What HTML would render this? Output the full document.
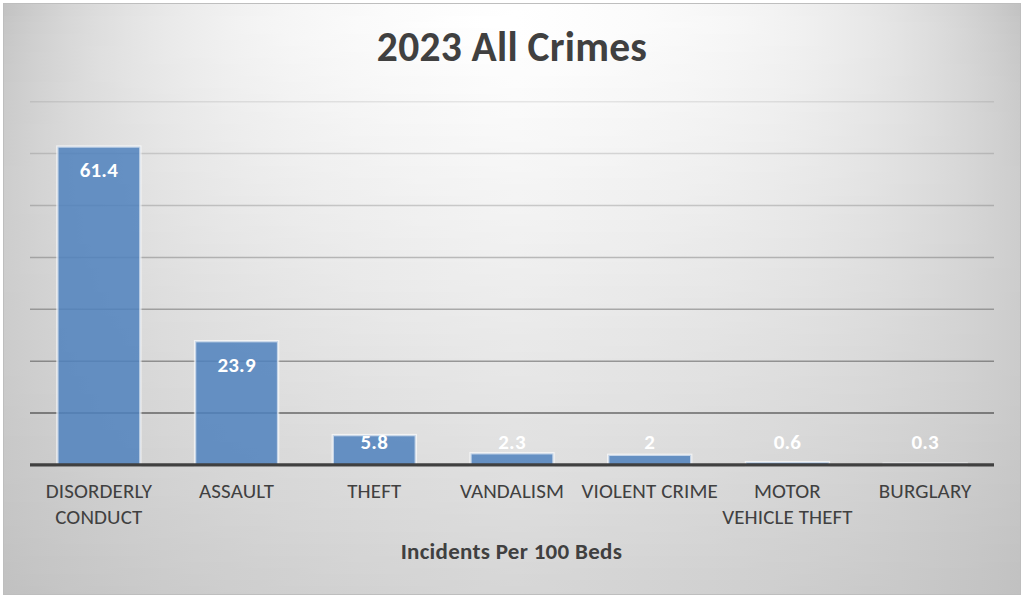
<!DOCTYPE html>
<html><head><meta charset="utf-8"><title>2023 All Crimes</title>
<style>
html,body{margin:0;padding:0;background:#fff;}
body{width:1024px;height:600px;overflow:hidden;position:relative;}
#chart{position:absolute;left:3px;top:3px;width:1016px;height:590px;border:1px solid #bebebe;overflow:hidden;}
#bg div{position:absolute;left:0;width:1016px;}
svg{position:absolute;left:0;top:0;}
text{font-family:Carlito,"Liberation Sans",sans-serif;text-anchor:middle;}
.dl{font-size:21px;letter-spacing:0.2px;font-weight:700;fill:#fff;}
.cl{font-size:21px;letter-spacing:0.12px;font-weight:400;fill:#404040;}
.ti{font-size:41.5px;letter-spacing:0.25px;font-weight:700;fill:#404040;}
.at{font-size:23px;letter-spacing:0.29px;font-weight:700;fill:#404040;}
</style></head>
<body>
<div id="chart"><div id="bg">
<div style="top:0px;height:6px;background:linear-gradient(90deg,#c2c2c2 0px,#cccccc 32px,#d5d5d5 64px,#dcdcdc 96px,#e2e2e2 128px,#e8e8e8 160px,#ececec 192px,#f0f0f0 224px,#f3f3f3 256px,#f5f5f5 288px,#f7f7f7 320px,#f9f9f9 352px,#fbfbfb 384px,#fcfcfc 416px,#fdfdfd 448px,#fefefe 480px,#fefefe 512px,#fefefe 544px,#fdfdfd 576px,#fbfbfb 608px,#fafafa 640px,#f9f9f9 672px,#f7f7f7 704px,#f5f5f5 736px,#f2f2f2 768px,#efefef 800px,#ebebeb 832px,#e7e7e7 864px,#e1e1e1 896px,#dadada 928px,#d3d3d3 960px,#cacaca 992px,#c2c2c2 1016px)"></div>
<div style="top:6px;height:6px;background:linear-gradient(90deg,#c3c3c3 0px,#cdcdcd 32px,#d6d6d6 64px,#dddddd 96px,#e3e3e3 128px,#e8e8e8 160px,#ededed 192px,#f0f0f0 224px,#f3f3f3 256px,#f6f6f6 288px,#f8f8f8 320px,#f9f9f9 352px,#fbfbfb 384px,#fcfcfc 416px,#fdfdfd 448px,#fefefe 480px,#ffffff 512px,#fefefe 544px,#fdfdfd 576px,#fcfcfc 608px,#fbfbfb 640px,#f9f9f9 672px,#f7f7f7 704px,#f5f5f5 736px,#f3f3f3 768px,#efefef 800px,#ececec 832px,#e7e7e7 864px,#e2e2e2 896px,#dbdbdb 928px,#d4d4d4 960px,#cbcbcb 992px,#c3c3c3 1016px)"></div>
<div style="top:12px;height:6px;background:linear-gradient(90deg,#c5c5c5 0px,#cecece 32px,#d7d7d7 64px,#dedede 96px,#e4e4e4 128px,#e9e9e9 160px,#ededed 192px,#f1f1f1 224px,#f4f4f4 256px,#f6f6f6 288px,#f8f8f8 320px,#fafafa 352px,#fbfbfb 384px,#fcfcfc 416px,#fefefe 448px,#ffffff 480px,#ffffff 512px,#fefefe 544px,#fdfdfd 576px,#fcfcfc 608px,#fbfbfb 640px,#f9f9f9 672px,#f8f8f8 704px,#f6f6f6 736px,#f3f3f3 768px,#f0f0f0 800px,#ececec 832px,#e8e8e8 864px,#e2e2e2 896px,#dcdcdc 928px,#d5d5d5 960px,#cccccc 992px,#c5c5c5 1016px)"></div>
<div style="top:18px;height:6px;background:linear-gradient(90deg,#c6c6c6 0px,#cfcfcf 32px,#d7d7d7 64px,#dedede 96px,#e4e4e4 128px,#e9e9e9 160px,#ededed 192px,#f1f1f1 224px,#f4f4f4 256px,#f6f6f6 288px,#f8f8f8 320px,#fafafa 352px,#fbfbfb 384px,#fdfdfd 416px,#fefefe 448px,#ffffff 480px,#ffffff 512px,#fefefe 544px,#fdfdfd 576px,#fcfcfc 608px,#fbfbfb 640px,#fafafa 672px,#f8f8f8 704px,#f6f6f6 736px,#f3f3f3 768px,#f0f0f0 800px,#ececec 832px,#e8e8e8 864px,#e3e3e3 896px,#dddddd 928px,#d5d5d5 960px,#cdcdcd 992px,#c6c6c6 1016px)"></div>
<div style="top:24px;height:6px;background:linear-gradient(90deg,#c6c6c6 0px,#cfcfcf 32px,#d7d7d7 64px,#dedede 96px,#e4e4e4 128px,#e9e9e9 160px,#ededed 192px,#f1f1f1 224px,#f4f4f4 256px,#f6f6f6 288px,#f8f8f8 320px,#fafafa 352px,#fbfbfb 384px,#fcfcfc 416px,#fdfdfd 448px,#fefefe 480px,#ffffff 512px,#fefefe 544px,#fdfdfd 576px,#fcfcfc 608px,#fbfbfb 640px,#f9f9f9 672px,#f8f8f8 704px,#f6f6f6 736px,#f3f3f3 768px,#f0f0f0 800px,#ececec 832px,#e8e8e8 864px,#e3e3e3 896px,#dddddd 928px,#d6d6d6 960px,#cdcdcd 992px,#c6c6c6 1016px)"></div>
<div style="top:30px;height:6px;background:linear-gradient(90deg,#c7c7c7 0px,#d0d0d0 32px,#d8d8d8 64px,#dedede 96px,#e4e4e4 128px,#e9e9e9 160px,#ededed 192px,#f1f1f1 224px,#f3f3f3 256px,#f6f6f6 288px,#f8f8f8 320px,#f9f9f9 352px,#fbfbfb 384px,#fcfcfc 416px,#fdfdfd 448px,#fefefe 480px,#ffffff 512px,#fefefe 544px,#fdfdfd 576px,#fcfcfc 608px,#fafafa 640px,#f9f9f9 672px,#f7f7f7 704px,#f5f5f5 736px,#f3f3f3 768px,#f0f0f0 800px,#ececec 832px,#e8e8e8 864px,#e3e3e3 896px,#dddddd 928px,#d6d6d6 960px,#cecece 992px,#c7c7c7 1016px)"></div>
<div style="top:36px;height:6px;background:linear-gradient(90deg,#c7c7c7 0px,#d0d0d0 32px,#d8d8d8 64px,#dedede 96px,#e4e4e4 128px,#e9e9e9 160px,#ededed 192px,#f0f0f0 224px,#f3f3f3 256px,#f6f6f6 288px,#f7f7f7 320px,#f9f9f9 352px,#fafafa 384px,#fcfcfc 416px,#fdfdfd 448px,#fefefe 480px,#fefefe 512px,#fdfdfd 544px,#fcfcfc 576px,#fbfbfb 608px,#fafafa 640px,#f9f9f9 672px,#f7f7f7 704px,#f5f5f5 736px,#f3f3f3 768px,#f0f0f0 800px,#ececec 832px,#e8e8e8 864px,#e3e3e3 896px,#dddddd 928px,#d6d6d6 960px,#cecece 992px,#c7c7c7 1016px)"></div>
<div style="top:42px;height:6px;background:linear-gradient(90deg,#c8c8c8 0px,#d0d0d0 32px,#d8d8d8 64px,#dfdfdf 96px,#e4e4e4 128px,#e9e9e9 160px,#ededed 192px,#f0f0f0 224px,#f3f3f3 256px,#f5f5f5 288px,#f7f7f7 320px,#f9f9f9 352px,#fafafa 384px,#fbfbfb 416px,#fcfcfc 448px,#fdfdfd 480px,#fefefe 512px,#fdfdfd 544px,#fcfcfc 576px,#fbfbfb 608px,#fafafa 640px,#f8f8f8 672px,#f7f7f7 704px,#f5f5f5 736px,#f2f2f2 768px,#efefef 800px,#ececec 832px,#e8e8e8 864px,#e3e3e3 896px,#dddddd 928px,#d6d6d6 960px,#cecece 992px,#c8c8c8 1016px)"></div>
<div style="top:48px;height:6px;background:linear-gradient(90deg,#c8c8c8 0px,#d1d1d1 32px,#d8d8d8 64px,#dfdfdf 96px,#e4e4e4 128px,#e9e9e9 160px,#ededed 192px,#f0f0f0 224px,#f3f3f3 256px,#f5f5f5 288px,#f7f7f7 320px,#f8f8f8 352px,#fafafa 384px,#fbfbfb 416px,#fcfcfc 448px,#fdfdfd 480px,#fefefe 512px,#fdfdfd 544px,#fcfcfc 576px,#fbfbfb 608px,#f9f9f9 640px,#f8f8f8 672px,#f6f6f6 704px,#f4f4f4 736px,#f2f2f2 768px,#efefef 800px,#ececec 832px,#e8e8e8 864px,#e3e3e3 896px,#dddddd 928px,#d6d6d6 960px,#cfcfcf 992px,#c8c8c8 1016px)"></div>
<div style="top:54px;height:6px;background:linear-gradient(90deg,#c8c8c8 0px,#d1d1d1 32px,#d8d8d8 64px,#dfdfdf 96px,#e4e4e4 128px,#e9e9e9 160px,#ececec 192px,#f0f0f0 224px,#f2f2f2 256px,#f5f5f5 288px,#f6f6f6 320px,#f8f8f8 352px,#f9f9f9 384px,#fbfbfb 416px,#fcfcfc 448px,#fdfdfd 480px,#fdfdfd 512px,#fcfcfc 544px,#fbfbfb 576px,#fafafa 608px,#f9f9f9 640px,#f8f8f8 672px,#f6f6f6 704px,#f4f4f4 736px,#f2f2f2 768px,#efefef 800px,#ececec 832px,#e7e7e7 864px,#e3e3e3 896px,#dddddd 928px,#d6d6d6 960px,#cfcfcf 992px,#c8c8c8 1016px)"></div>
<div style="top:60px;height:6px;background:linear-gradient(90deg,#c9c9c9 0px,#d1d1d1 32px,#d8d8d8 64px,#dfdfdf 96px,#e4e4e4 128px,#e8e8e8 160px,#ececec 192px,#efefef 224px,#f2f2f2 256px,#f4f4f4 288px,#f6f6f6 320px,#f8f8f8 352px,#f9f9f9 384px,#fafafa 416px,#fbfbfb 448px,#fcfcfc 480px,#fdfdfd 512px,#fcfcfc 544px,#fbfbfb 576px,#fafafa 608px,#f9f9f9 640px,#f7f7f7 672px,#f6f6f6 704px,#f4f4f4 736px,#f1f1f1 768px,#efefef 800px,#ebebeb 832px,#e7e7e7 864px,#e3e3e3 896px,#dddddd 928px,#d7d7d7 960px,#cfcfcf 992px,#c9c9c9 1016px)"></div>
<div style="top:66px;height:6px;background:linear-gradient(90deg,#c9c9c9 0px,#d1d1d1 32px,#d8d8d8 64px,#dfdfdf 96px,#e4e4e4 128px,#e8e8e8 160px,#ececec 192px,#efefef 224px,#f2f2f2 256px,#f4f4f4 288px,#f6f6f6 320px,#f7f7f7 352px,#f9f9f9 384px,#fafafa 416px,#fbfbfb 448px,#fcfcfc 480px,#fcfcfc 512px,#fcfcfc 544px,#fbfbfb 576px,#fafafa 608px,#f8f8f8 640px,#f7f7f7 672px,#f5f5f5 704px,#f3f3f3 736px,#f1f1f1 768px,#eeeeee 800px,#ebebeb 832px,#e7e7e7 864px,#e3e3e3 896px,#dddddd 928px,#d7d7d7 960px,#cfcfcf 992px,#c9c9c9 1016px)"></div>
<div style="top:72px;height:6px;background:linear-gradient(90deg,#c9c9c9 0px,#d1d1d1 32px,#d8d8d8 64px,#dfdfdf 96px,#e4e4e4 128px,#e8e8e8 160px,#ececec 192px,#efefef 224px,#f1f1f1 256px,#f4f4f4 288px,#f5f5f5 320px,#f7f7f7 352px,#f8f8f8 384px,#f9f9f9 416px,#fafafa 448px,#fbfbfb 480px,#fcfcfc 512px,#fbfbfb 544px,#fafafa 576px,#f9f9f9 608px,#f8f8f8 640px,#f7f7f7 672px,#f5f5f5 704px,#f3f3f3 736px,#f1f1f1 768px,#eeeeee 800px,#ebebeb 832px,#e7e7e7 864px,#e2e2e2 896px,#dddddd 928px,#d7d7d7 960px,#d0d0d0 992px,#c9c9c9 1016px)"></div>
<div style="top:78px;height:6px;background:linear-gradient(90deg,#cacaca 0px,#d2d2d2 32px,#d9d9d9 64px,#dedede 96px,#e4e4e4 128px,#e8e8e8 160px,#ececec 192px,#efefef 224px,#f1f1f1 256px,#f3f3f3 288px,#f5f5f5 320px,#f7f7f7 352px,#f8f8f8 384px,#f9f9f9 416px,#fafafa 448px,#fbfbfb 480px,#fcfcfc 512px,#fbfbfb 544px,#fafafa 576px,#f9f9f9 608px,#f8f8f8 640px,#f6f6f6 672px,#f5f5f5 704px,#f3f3f3 736px,#f1f1f1 768px,#eeeeee 800px,#ebebeb 832px,#e7e7e7 864px,#e2e2e2 896px,#dddddd 928px,#d7d7d7 960px,#d0d0d0 992px,#cacaca 1016px)"></div>
<div style="top:84px;height:6px;background:linear-gradient(90deg,#cacaca 0px,#d2d2d2 32px,#d9d9d9 64px,#dedede 96px,#e3e3e3 128px,#e8e8e8 160px,#ebebeb 192px,#eeeeee 224px,#f1f1f1 256px,#f3f3f3 288px,#f5f5f5 320px,#f6f6f6 352px,#f8f8f8 384px,#f9f9f9 416px,#fafafa 448px,#fbfbfb 480px,#fbfbfb 512px,#fafafa 544px,#f9f9f9 576px,#f8f8f8 608px,#f7f7f7 640px,#f6f6f6 672px,#f4f4f4 704px,#f2f2f2 736px,#f0f0f0 768px,#eeeeee 800px,#eaeaea 832px,#e7e7e7 864px,#e2e2e2 896px,#dddddd 928px,#d7d7d7 960px,#d0d0d0 992px,#cacaca 1016px)"></div>
<div style="top:90px;height:6px;background:linear-gradient(90deg,#cacaca 0px,#d2d2d2 32px,#d9d9d9 64px,#dedede 96px,#e3e3e3 128px,#e7e7e7 160px,#ebebeb 192px,#eeeeee 224px,#f0f0f0 256px,#f3f3f3 288px,#f4f4f4 320px,#f6f6f6 352px,#f7f7f7 384px,#f8f8f8 416px,#f9f9f9 448px,#fafafa 480px,#fbfbfb 512px,#fafafa 544px,#f9f9f9 576px,#f8f8f8 608px,#f7f7f7 640px,#f6f6f6 672px,#f4f4f4 704px,#f2f2f2 736px,#f0f0f0 768px,#ededed 800px,#eaeaea 832px,#e6e6e6 864px,#e2e2e2 896px,#dddddd 928px,#d7d7d7 960px,#d0d0d0 992px,#cacaca 1016px)"></div>
<div style="top:96px;height:6px;background:linear-gradient(90deg,#cbcbcb 0px,#d2d2d2 32px,#d9d9d9 64px,#dedede 96px,#e3e3e3 128px,#e7e7e7 160px,#ebebeb 192px,#eeeeee 224px,#f0f0f0 256px,#f2f2f2 288px,#f4f4f4 320px,#f5f5f5 352px,#f7f7f7 384px,#f8f8f8 416px,#f9f9f9 448px,#fafafa 480px,#fafafa 512px,#fafafa 544px,#f9f9f9 576px,#f8f8f8 608px,#f6f6f6 640px,#f5f5f5 672px,#f4f4f4 704px,#f2f2f2 736px,#f0f0f0 768px,#ededed 800px,#eaeaea 832px,#e6e6e6 864px,#e2e2e2 896px,#dddddd 928px,#d7d7d7 960px,#d0d0d0 992px,#cbcbcb 1016px)"></div>
<div style="top:102px;height:6px;background:linear-gradient(90deg,#cbcbcb 0px,#d2d2d2 32px,#d9d9d9 64px,#dedede 96px,#e3e3e3 128px,#e7e7e7 160px,#eaeaea 192px,#ededed 224px,#f0f0f0 256px,#f2f2f2 288px,#f4f4f4 320px,#f5f5f5 352px,#f6f6f6 384px,#f7f7f7 416px,#f8f8f8 448px,#f9f9f9 480px,#fafafa 512px,#f9f9f9 544px,#f8f8f8 576px,#f7f7f7 608px,#f6f6f6 640px,#f5f5f5 672px,#f3f3f3 704px,#f1f1f1 736px,#efefef 768px,#ededed 800px,#eaeaea 832px,#e6e6e6 864px,#e2e2e2 896px,#dddddd 928px,#d7d7d7 960px,#d0d0d0 992px,#cbcbcb 1016px)"></div>
<div style="top:108px;height:6px;background:linear-gradient(90deg,#cbcbcb 0px,#d2d2d2 32px,#d9d9d9 64px,#dedede 96px,#e3e3e3 128px,#e7e7e7 160px,#eaeaea 192px,#ededed 224px,#efefef 256px,#f2f2f2 288px,#f3f3f3 320px,#f5f5f5 352px,#f6f6f6 384px,#f7f7f7 416px,#f8f8f8 448px,#f9f9f9 480px,#fafafa 512px,#f9f9f9 544px,#f8f8f8 576px,#f7f7f7 608px,#f6f6f6 640px,#f4f4f4 672px,#f3f3f3 704px,#f1f1f1 736px,#efefef 768px,#ececec 800px,#e9e9e9 832px,#e6e6e6 864px,#e2e2e2 896px,#dddddd 928px,#d7d7d7 960px,#d1d1d1 992px,#cbcbcb 1016px)"></div>
<div style="top:114px;height:6px;background:linear-gradient(90deg,#cbcbcb 0px,#d2d2d2 32px,#d9d9d9 64px,#dedede 96px,#e3e3e3 128px,#e7e7e7 160px,#eaeaea 192px,#ededed 224px,#efefef 256px,#f1f1f1 288px,#f3f3f3 320px,#f4f4f4 352px,#f6f6f6 384px,#f7f7f7 416px,#f8f8f8 448px,#f9f9f9 480px,#f9f9f9 512px,#f8f8f8 544px,#f7f7f7 576px,#f6f6f6 608px,#f5f5f5 640px,#f4f4f4 672px,#f2f2f2 704px,#f1f1f1 736px,#efefef 768px,#ececec 800px,#e9e9e9 832px,#e6e6e6 864px,#e2e2e2 896px,#dddddd 928px,#d7d7d7 960px,#d1d1d1 992px,#cbcbcb 1016px)"></div>
<div style="top:120px;height:6px;background:linear-gradient(90deg,#cbcbcb 0px,#d3d3d3 32px,#d9d9d9 64px,#dedede 96px,#e2e2e2 128px,#e6e6e6 160px,#eaeaea 192px,#ececec 224px,#efefef 256px,#f1f1f1 288px,#f2f2f2 320px,#f4f4f4 352px,#f5f5f5 384px,#f6f6f6 416px,#f7f7f7 448px,#f8f8f8 480px,#f9f9f9 512px,#f8f8f8 544px,#f7f7f7 576px,#f6f6f6 608px,#f5f5f5 640px,#f4f4f4 672px,#f2f2f2 704px,#f0f0f0 736px,#eeeeee 768px,#ececec 800px,#e9e9e9 832px,#e5e5e5 864px,#e1e1e1 896px,#dddddd 928px,#d7d7d7 960px,#d1d1d1 992px,#cbcbcb 1016px)"></div>
<div style="top:126px;height:6px;background:linear-gradient(90deg,#cccccc 0px,#d3d3d3 32px,#d9d9d9 64px,#dedede 96px,#e2e2e2 128px,#e6e6e6 160px,#e9e9e9 192px,#ececec 224px,#eeeeee 256px,#f0f0f0 288px,#f2f2f2 320px,#f4f4f4 352px,#f5f5f5 384px,#f6f6f6 416px,#f7f7f7 448px,#f8f8f8 480px,#f8f8f8 512px,#f7f7f7 544px,#f7f7f7 576px,#f6f6f6 608px,#f4f4f4 640px,#f3f3f3 672px,#f2f2f2 704px,#f0f0f0 736px,#eeeeee 768px,#ebebeb 800px,#e9e9e9 832px,#e5e5e5 864px,#e1e1e1 896px,#dddddd 928px,#d7d7d7 960px,#d1d1d1 992px,#cccccc 1016px)"></div>
<div style="top:132px;height:6px;background:linear-gradient(90deg,#cccccc 0px,#d3d3d3 32px,#d9d9d9 64px,#dedede 96px,#e2e2e2 128px,#e6e6e6 160px,#e9e9e9 192px,#ececec 224px,#eeeeee 256px,#f0f0f0 288px,#f2f2f2 320px,#f3f3f3 352px,#f4f4f4 384px,#f5f5f5 416px,#f6f6f6 448px,#f7f7f7 480px,#f8f8f8 512px,#f7f7f7 544px,#f6f6f6 576px,#f5f5f5 608px,#f4f4f4 640px,#f3f3f3 672px,#f1f1f1 704px,#f0f0f0 736px,#eeeeee 768px,#ebebeb 800px,#e8e8e8 832px,#e5e5e5 864px,#e1e1e1 896px,#dcdcdc 928px,#d7d7d7 960px,#d1d1d1 992px,#cccccc 1016px)"></div>
<div style="top:138px;height:6px;background:linear-gradient(90deg,#cccccc 0px,#d3d3d3 32px,#d9d9d9 64px,#dedede 96px,#e2e2e2 128px,#e6e6e6 160px,#e9e9e9 192px,#ebebeb 224px,#eeeeee 256px,#f0f0f0 288px,#f1f1f1 320px,#f3f3f3 352px,#f4f4f4 384px,#f5f5f5 416px,#f6f6f6 448px,#f7f7f7 480px,#f7f7f7 512px,#f7f7f7 544px,#f6f6f6 576px,#f5f5f5 608px,#f4f4f4 640px,#f2f2f2 672px,#f1f1f1 704px,#efefef 736px,#ededed 768px,#ebebeb 800px,#e8e8e8 832px,#e5e5e5 864px,#e1e1e1 896px,#dcdcdc 928px,#d7d7d7 960px,#d1d1d1 992px,#cccccc 1016px)"></div>
<div style="top:144px;height:6px;background:linear-gradient(90deg,#cccccc 0px,#d3d3d3 32px,#d8d8d8 64px,#dddddd 96px,#e2e2e2 128px,#e5e5e5 160px,#e8e8e8 192px,#ebebeb 224px,#ededed 256px,#efefef 288px,#f1f1f1 320px,#f2f2f2 352px,#f4f4f4 384px,#f5f5f5 416px,#f6f6f6 448px,#f6f6f6 480px,#f7f7f7 512px,#f6f6f6 544px,#f5f5f5 576px,#f4f4f4 608px,#f3f3f3 640px,#f2f2f2 672px,#f1f1f1 704px,#efefef 736px,#ededed 768px,#eaeaea 800px,#e8e8e8 832px,#e4e4e4 864px,#e1e1e1 896px,#dcdcdc 928px,#d7d7d7 960px,#d1d1d1 992px,#cccccc 1016px)"></div>
<div style="top:150px;height:6px;background:linear-gradient(90deg,#cccccc 0px,#d3d3d3 32px,#d8d8d8 64px,#dddddd 96px,#e1e1e1 128px,#e5e5e5 160px,#e8e8e8 192px,#ebebeb 224px,#ededed 256px,#efefef 288px,#f1f1f1 320px,#f2f2f2 352px,#f3f3f3 384px,#f4f4f4 416px,#f5f5f5 448px,#f6f6f6 480px,#f7f7f7 512px,#f6f6f6 544px,#f5f5f5 576px,#f4f4f4 608px,#f3f3f3 640px,#f2f2f2 672px,#f0f0f0 704px,#eeeeee 736px,#ececec 768px,#eaeaea 800px,#e7e7e7 832px,#e4e4e4 864px,#e0e0e0 896px,#dcdcdc 928px,#d7d7d7 960px,#d1d1d1 992px,#cccccc 1016px)"></div>
<div style="top:156px;height:6px;background:linear-gradient(90deg,#cccccc 0px,#d3d3d3 32px,#d8d8d8 64px,#dddddd 96px,#e1e1e1 128px,#e5e5e5 160px,#e8e8e8 192px,#eaeaea 224px,#ededed 256px,#efefef 288px,#f0f0f0 320px,#f1f1f1 352px,#f3f3f3 384px,#f4f4f4 416px,#f5f5f5 448px,#f6f6f6 480px,#f6f6f6 512px,#f5f5f5 544px,#f5f5f5 576px,#f4f4f4 608px,#f2f2f2 640px,#f1f1f1 672px,#f0f0f0 704px,#eeeeee 736px,#ececec 768px,#eaeaea 800px,#e7e7e7 832px,#e4e4e4 864px,#e0e0e0 896px,#dcdcdc 928px,#d7d7d7 960px,#d1d1d1 992px,#cccccc 1016px)"></div>
<div style="top:162px;height:6px;background:linear-gradient(90deg,#cdcdcd 0px,#d3d3d3 32px,#d8d8d8 64px,#dddddd 96px,#e1e1e1 128px,#e5e5e5 160px,#e8e8e8 192px,#eaeaea 224px,#ececec 256px,#eeeeee 288px,#f0f0f0 320px,#f1f1f1 352px,#f2f2f2 384px,#f3f3f3 416px,#f4f4f4 448px,#f5f5f5 480px,#f6f6f6 512px,#f5f5f5 544px,#f4f4f4 576px,#f3f3f3 608px,#f2f2f2 640px,#f1f1f1 672px,#efefef 704px,#eeeeee 736px,#ececec 768px,#e9e9e9 800px,#e7e7e7 832px,#e4e4e4 864px,#e0e0e0 896px,#dcdcdc 928px,#d7d7d7 960px,#d1d1d1 992px,#cdcdcd 1016px)"></div>
<div style="top:168px;height:6px;background:linear-gradient(90deg,#cdcdcd 0px,#d3d3d3 32px,#d8d8d8 64px,#dddddd 96px,#e1e1e1 128px,#e4e4e4 160px,#e7e7e7 192px,#eaeaea 224px,#ececec 256px,#eeeeee 288px,#efefef 320px,#f1f1f1 352px,#f2f2f2 384px,#f3f3f3 416px,#f4f4f4 448px,#f5f5f5 480px,#f5f5f5 512px,#f5f5f5 544px,#f4f4f4 576px,#f3f3f3 608px,#f2f2f2 640px,#f0f0f0 672px,#efefef 704px,#ededed 736px,#ebebeb 768px,#e9e9e9 800px,#e7e7e7 832px,#e3e3e3 864px,#e0e0e0 896px,#dcdcdc 928px,#d7d7d7 960px,#d1d1d1 992px,#cdcdcd 1016px)"></div>
<div style="top:174px;height:6px;background:linear-gradient(90deg,#cdcdcd 0px,#d3d3d3 32px,#d8d8d8 64px,#dddddd 96px,#e1e1e1 128px,#e4e4e4 160px,#e7e7e7 192px,#e9e9e9 224px,#ececec 256px,#ededed 288px,#efefef 320px,#f0f0f0 352px,#f1f1f1 384px,#f3f3f3 416px,#f3f3f3 448px,#f4f4f4 480px,#f5f5f5 512px,#f4f4f4 544px,#f3f3f3 576px,#f2f2f2 608px,#f1f1f1 640px,#f0f0f0 672px,#efefef 704px,#ededed 736px,#ebebeb 768px,#e9e9e9 800px,#e6e6e6 832px,#e3e3e3 864px,#e0e0e0 896px,#dcdcdc 928px,#d7d7d7 960px,#d1d1d1 992px,#cdcdcd 1016px)"></div>
<div style="top:180px;height:6px;background:linear-gradient(90deg,#cdcdcd 0px,#d3d3d3 32px,#d8d8d8 64px,#dcdcdc 96px,#e0e0e0 128px,#e4e4e4 160px,#e7e7e7 192px,#e9e9e9 224px,#ebebeb 256px,#ededed 288px,#efefef 320px,#f0f0f0 352px,#f1f1f1 384px,#f2f2f2 416px,#f3f3f3 448px,#f4f4f4 480px,#f4f4f4 512px,#f4f4f4 544px,#f3f3f3 576px,#f2f2f2 608px,#f1f1f1 640px,#f0f0f0 672px,#eeeeee 704px,#ededed 736px,#ebebeb 768px,#e8e8e8 800px,#e6e6e6 832px,#e3e3e3 864px,#dfdfdf 896px,#dbdbdb 928px,#d7d7d7 960px,#d1d1d1 992px,#cdcdcd 1016px)"></div>
<div style="top:186px;height:6px;background:linear-gradient(90deg,#cdcdcd 0px,#d3d3d3 32px,#d8d8d8 64px,#dcdcdc 96px,#e0e0e0 128px,#e3e3e3 160px,#e6e6e6 192px,#e9e9e9 224px,#ebebeb 256px,#ededed 288px,#eeeeee 320px,#efefef 352px,#f1f1f1 384px,#f2f2f2 416px,#f3f3f3 448px,#f3f3f3 480px,#f4f4f4 512px,#f3f3f3 544px,#f2f2f2 576px,#f1f1f1 608px,#f0f0f0 640px,#efefef 672px,#eeeeee 704px,#ececec 736px,#eaeaea 768px,#e8e8e8 800px,#e6e6e6 832px,#e3e3e3 864px,#dfdfdf 896px,#dbdbdb 928px,#d7d7d7 960px,#d1d1d1 992px,#cdcdcd 1016px)"></div>
<div style="top:192px;height:6px;background:linear-gradient(90deg,#cdcdcd 0px,#d3d3d3 32px,#d8d8d8 64px,#dcdcdc 96px,#e0e0e0 128px,#e3e3e3 160px,#e6e6e6 192px,#e8e8e8 224px,#eaeaea 256px,#ececec 288px,#eeeeee 320px,#efefef 352px,#f0f0f0 384px,#f1f1f1 416px,#f2f2f2 448px,#f3f3f3 480px,#f4f4f4 512px,#f3f3f3 544px,#f2f2f2 576px,#f1f1f1 608px,#f0f0f0 640px,#efefef 672px,#ededed 704px,#ececec 736px,#eaeaea 768px,#e8e8e8 800px,#e5e5e5 832px,#e2e2e2 864px,#dfdfdf 896px,#dbdbdb 928px,#d7d7d7 960px,#d1d1d1 992px,#cdcdcd 1016px)"></div>
<div style="top:198px;height:6px;background:linear-gradient(90deg,#cdcdcd 0px,#d3d3d3 32px,#d8d8d8 64px,#dcdcdc 96px,#e0e0e0 128px,#e3e3e3 160px,#e6e6e6 192px,#e8e8e8 224px,#eaeaea 256px,#ececec 288px,#ededed 320px,#efefef 352px,#f0f0f0 384px,#f1f1f1 416px,#f2f2f2 448px,#f3f3f3 480px,#f3f3f3 512px,#f2f2f2 544px,#f2f2f2 576px,#f1f1f1 608px,#efefef 640px,#eeeeee 672px,#ededed 704px,#ebebeb 736px,#eaeaea 768px,#e7e7e7 800px,#e5e5e5 832px,#e2e2e2 864px,#dfdfdf 896px,#dbdbdb 928px,#d6d6d6 960px,#d1d1d1 992px,#cdcdcd 1016px)"></div>
<div style="top:204px;height:6px;background:linear-gradient(90deg,#cdcdcd 0px,#d3d3d3 32px,#d7d7d7 64px,#dcdcdc 96px,#dfdfdf 128px,#e3e3e3 160px,#e5e5e5 192px,#e8e8e8 224px,#eaeaea 256px,#ebebeb 288px,#ededed 320px,#eeeeee 352px,#efefef 384px,#f0f0f0 416px,#f1f1f1 448px,#f2f2f2 480px,#f3f3f3 512px,#f2f2f2 544px,#f1f1f1 576px,#f0f0f0 608px,#efefef 640px,#eeeeee 672px,#ededed 704px,#ebebeb 736px,#e9e9e9 768px,#e7e7e7 800px,#e5e5e5 832px,#e2e2e2 864px,#dedede 896px,#dbdbdb 928px,#d6d6d6 960px,#d1d1d1 992px,#cdcdcd 1016px)"></div>
<div style="top:210px;height:6px;background:linear-gradient(90deg,#cdcdcd 0px,#d2d2d2 32px,#d7d7d7 64px,#dbdbdb 96px,#dfdfdf 128px,#e2e2e2 160px,#e5e5e5 192px,#e7e7e7 224px,#e9e9e9 256px,#ebebeb 288px,#ececec 320px,#eeeeee 352px,#efefef 384px,#f0f0f0 416px,#f1f1f1 448px,#f2f2f2 480px,#f2f2f2 512px,#f2f2f2 544px,#f1f1f1 576px,#f0f0f0 608px,#efefef 640px,#ededed 672px,#ececec 704px,#ebebeb 736px,#e9e9e9 768px,#e7e7e7 800px,#e4e4e4 832px,#e1e1e1 864px,#dedede 896px,#dadada 928px,#d6d6d6 960px,#d1d1d1 992px,#cdcdcd 1016px)"></div>
<div style="top:216px;height:6px;background:linear-gradient(90deg,#cdcdcd 0px,#d2d2d2 32px,#d7d7d7 64px,#dbdbdb 96px,#dfdfdf 128px,#e2e2e2 160px,#e5e5e5 192px,#e7e7e7 224px,#e9e9e9 256px,#ebebeb 288px,#ececec 320px,#ededed 352px,#eeeeee 384px,#f0f0f0 416px,#f0f0f0 448px,#f1f1f1 480px,#f2f2f2 512px,#f1f1f1 544px,#f0f0f0 576px,#efefef 608px,#eeeeee 640px,#ededed 672px,#ececec 704px,#eaeaea 736px,#e8e8e8 768px,#e6e6e6 800px,#e4e4e4 832px,#e1e1e1 864px,#dedede 896px,#dadada 928px,#d6d6d6 960px,#d1d1d1 992px,#cdcdcd 1016px)"></div>
<div style="top:222px;height:6px;background:linear-gradient(90deg,#cdcdcd 0px,#d2d2d2 32px,#d7d7d7 64px,#dbdbdb 96px,#dfdfdf 128px,#e2e2e2 160px,#e4e4e4 192px,#e7e7e7 224px,#e8e8e8 256px,#eaeaea 288px,#ececec 320px,#ededed 352px,#eeeeee 384px,#efefef 416px,#f0f0f0 448px,#f1f1f1 480px,#f1f1f1 512px,#f1f1f1 544px,#f0f0f0 576px,#efefef 608px,#eeeeee 640px,#ededed 672px,#ebebeb 704px,#eaeaea 736px,#e8e8e8 768px,#e6e6e6 800px,#e4e4e4 832px,#e1e1e1 864px,#dedede 896px,#dadada 928px,#d6d6d6 960px,#d1d1d1 992px,#cdcdcd 1016px)"></div>
<div style="top:228px;height:6px;background:linear-gradient(90deg,#cdcdcd 0px,#d2d2d2 32px,#d7d7d7 64px,#dbdbdb 96px,#dedede 128px,#e1e1e1 160px,#e4e4e4 192px,#e6e6e6 224px,#e8e8e8 256px,#eaeaea 288px,#ebebeb 320px,#ececec 352px,#eeeeee 384px,#efefef 416px,#f0f0f0 448px,#f0f0f0 480px,#f1f1f1 512px,#f0f0f0 544px,#efefef 576px,#eeeeee 608px,#ededed 640px,#ececec 672px,#ebebeb 704px,#e9e9e9 736px,#e8e8e8 768px,#e6e6e6 800px,#e3e3e3 832px,#e1e1e1 864px,#dddddd 896px,#dadada 928px,#d6d6d6 960px,#d1d1d1 992px,#cdcdcd 1016px)"></div>
<div style="top:234px;height:6px;background:linear-gradient(90deg,#cdcdcd 0px,#d2d2d2 32px,#d7d7d7 64px,#dbdbdb 96px,#dedede 128px,#e1e1e1 160px,#e4e4e4 192px,#e6e6e6 224px,#e8e8e8 256px,#e9e9e9 288px,#ebebeb 320px,#ececec 352px,#ededed 384px,#eeeeee 416px,#efefef 448px,#f0f0f0 480px,#f1f1f1 512px,#f0f0f0 544px,#efefef 576px,#eeeeee 608px,#ededed 640px,#ececec 672px,#eaeaea 704px,#e9e9e9 736px,#e7e7e7 768px,#e5e5e5 800px,#e3e3e3 832px,#e0e0e0 864px,#dddddd 896px,#dadada 928px,#d6d6d6 960px,#d1d1d1 992px,#cdcdcd 1016px)"></div>
<div style="top:240px;height:6px;background:linear-gradient(90deg,#cdcdcd 0px,#d2d2d2 32px,#d6d6d6 64px,#dadada 96px,#dedede 128px,#e1e1e1 160px,#e3e3e3 192px,#e5e5e5 224px,#e7e7e7 256px,#e9e9e9 288px,#eaeaea 320px,#ececec 352px,#ededed 384px,#eeeeee 416px,#efefef 448px,#f0f0f0 480px,#f0f0f0 512px,#efefef 544px,#eeeeee 576px,#eeeeee 608px,#ededed 640px,#ebebeb 672px,#eaeaea 704px,#e9e9e9 736px,#e7e7e7 768px,#e5e5e5 800px,#e3e3e3 832px,#e0e0e0 864px,#dddddd 896px,#d9d9d9 928px,#d5d5d5 960px,#d1d1d1 992px,#cdcdcd 1016px)"></div>
<div style="top:246px;height:6px;background:linear-gradient(90deg,#cdcdcd 0px,#d2d2d2 32px,#d6d6d6 64px,#dadada 96px,#dddddd 128px,#e0e0e0 160px,#e3e3e3 192px,#e5e5e5 224px,#e7e7e7 256px,#e9e9e9 288px,#eaeaea 320px,#ebebeb 352px,#ececec 384px,#ededed 416px,#eeeeee 448px,#efefef 480px,#f0f0f0 512px,#efefef 544px,#eeeeee 576px,#ededed 608px,#ececec 640px,#ebebeb 672px,#eaeaea 704px,#e8e8e8 736px,#e6e6e6 768px,#e5e5e5 800px,#e2e2e2 832px,#e0e0e0 864px,#dddddd 896px,#d9d9d9 928px,#d5d5d5 960px,#d1d1d1 992px,#cdcdcd 1016px)"></div>
<div style="top:252px;height:6px;background:linear-gradient(90deg,#cdcdcd 0px,#d2d2d2 32px,#d6d6d6 64px,#dadada 96px,#dddddd 128px,#e0e0e0 160px,#e3e3e3 192px,#e5e5e5 224px,#e7e7e7 256px,#e8e8e8 288px,#eaeaea 320px,#ebebeb 352px,#ececec 384px,#ededed 416px,#eeeeee 448px,#efefef 480px,#efefef 512px,#eeeeee 544px,#eeeeee 576px,#ededed 608px,#ececec 640px,#eaeaea 672px,#e9e9e9 704px,#e8e8e8 736px,#e6e6e6 768px,#e4e4e4 800px,#e2e2e2 832px,#dfdfdf 864px,#dcdcdc 896px,#d9d9d9 928px,#d5d5d5 960px,#d1d1d1 992px,#cdcdcd 1016px)"></div>
<div style="top:258px;height:6px;background:linear-gradient(90deg,#cdcdcd 0px,#d2d2d2 32px,#d6d6d6 64px,#dadada 96px,#dddddd 128px,#e0e0e0 160px,#e2e2e2 192px,#e4e4e4 224px,#e6e6e6 256px,#e8e8e8 288px,#e9e9e9 320px,#eaeaea 352px,#ebebeb 384px,#ececec 416px,#ededed 448px,#eeeeee 480px,#efefef 512px,#eeeeee 544px,#ededed 576px,#ececec 608px,#ebebeb 640px,#eaeaea 672px,#e9e9e9 704px,#e7e7e7 736px,#e6e6e6 768px,#e4e4e4 800px,#e2e2e2 832px,#dfdfdf 864px,#dcdcdc 896px,#d9d9d9 928px,#d5d5d5 960px,#d1d1d1 992px,#cdcdcd 1016px)"></div>
<div style="top:264px;height:6px;background:linear-gradient(90deg,#cdcdcd 0px,#d2d2d2 32px,#d6d6d6 64px,#d9d9d9 96px,#dddddd 128px,#dfdfdf 160px,#e2e2e2 192px,#e4e4e4 224px,#e6e6e6 256px,#e7e7e7 288px,#e9e9e9 320px,#eaeaea 352px,#ebebeb 384px,#ececec 416px,#ededed 448px,#eeeeee 480px,#eeeeee 512px,#eeeeee 544px,#ededed 576px,#ececec 608px,#ebebeb 640px,#eaeaea 672px,#e8e8e8 704px,#e7e7e7 736px,#e5e5e5 768px,#e3e3e3 800px,#e1e1e1 832px,#dfdfdf 864px,#dcdcdc 896px,#d9d9d9 928px,#d5d5d5 960px,#d0d0d0 992px,#cdcdcd 1016px)"></div>
<div style="top:270px;height:6px;background:linear-gradient(90deg,#cdcdcd 0px,#d1d1d1 32px,#d6d6d6 64px,#d9d9d9 96px,#dcdcdc 128px,#dfdfdf 160px,#e1e1e1 192px,#e3e3e3 224px,#e5e5e5 256px,#e7e7e7 288px,#e8e8e8 320px,#eaeaea 352px,#ebebeb 384px,#ececec 416px,#ededed 448px,#ededed 480px,#eeeeee 512px,#ededed 544px,#ececec 576px,#ebebeb 608px,#eaeaea 640px,#e9e9e9 672px,#e8e8e8 704px,#e7e7e7 736px,#e5e5e5 768px,#e3e3e3 800px,#e1e1e1 832px,#dedede 864px,#dcdcdc 896px,#d8d8d8 928px,#d5d5d5 960px,#d0d0d0 992px,#cdcdcd 1016px)"></div>
<div style="top:276px;height:6px;background:linear-gradient(90deg,#cdcdcd 0px,#d1d1d1 32px,#d5d5d5 64px,#d9d9d9 96px,#dcdcdc 128px,#dfdfdf 160px,#e1e1e1 192px,#e3e3e3 224px,#e5e5e5 256px,#e6e6e6 288px,#e8e8e8 320px,#e9e9e9 352px,#eaeaea 384px,#ebebeb 416px,#ececec 448px,#ededed 480px,#ededed 512px,#ededed 544px,#ececec 576px,#ebebeb 608px,#eaeaea 640px,#e9e9e9 672px,#e8e8e8 704px,#e6e6e6 736px,#e4e4e4 768px,#e3e3e3 800px,#e0e0e0 832px,#dedede 864px,#dbdbdb 896px,#d8d8d8 928px,#d4d4d4 960px,#d0d0d0 992px,#cdcdcd 1016px)"></div>
<div style="top:282px;height:6px;background:linear-gradient(90deg,#cdcdcd 0px,#d1d1d1 32px,#d5d5d5 64px,#d9d9d9 96px,#dcdcdc 128px,#dedede 160px,#e1e1e1 192px,#e3e3e3 224px,#e4e4e4 256px,#e6e6e6 288px,#e7e7e7 320px,#e9e9e9 352px,#eaeaea 384px,#ebebeb 416px,#ececec 448px,#ececec 480px,#ededed 512px,#ececec 544px,#ebebeb 576px,#eaeaea 608px,#e9e9e9 640px,#e8e8e8 672px,#e7e7e7 704px,#e6e6e6 736px,#e4e4e4 768px,#e2e2e2 800px,#e0e0e0 832px,#dedede 864px,#dbdbdb 896px,#d8d8d8 928px,#d4d4d4 960px,#d0d0d0 992px,#cdcdcd 1016px)"></div>
<div style="top:288px;height:6px;background:linear-gradient(90deg,#cccccc 0px,#d1d1d1 32px,#d5d5d5 64px,#d8d8d8 96px,#dbdbdb 128px,#dedede 160px,#e0e0e0 192px,#e2e2e2 224px,#e4e4e4 256px,#e6e6e6 288px,#e7e7e7 320px,#e8e8e8 352px,#e9e9e9 384px,#eaeaea 416px,#ebebeb 448px,#ececec 480px,#ededed 512px,#ececec 544px,#ebebeb 576px,#eaeaea 608px,#e9e9e9 640px,#e8e8e8 672px,#e7e7e7 704px,#e5e5e5 736px,#e4e4e4 768px,#e2e2e2 800px,#e0e0e0 832px,#dddddd 864px,#dbdbdb 896px,#d8d8d8 928px,#d4d4d4 960px,#d0d0d0 992px,#cccccc 1016px)"></div>
<div style="top:294px;height:6px;background:linear-gradient(90deg,#cccccc 0px,#d1d1d1 32px,#d5d5d5 64px,#d8d8d8 96px,#dbdbdb 128px,#dedede 160px,#e0e0e0 192px,#e2e2e2 224px,#e4e4e4 256px,#e5e5e5 288px,#e7e7e7 320px,#e8e8e8 352px,#e9e9e9 384px,#eaeaea 416px,#ebebeb 448px,#ececec 480px,#ececec 512px,#ebebeb 544px,#ebebeb 576px,#eaeaea 608px,#e9e9e9 640px,#e7e7e7 672px,#e6e6e6 704px,#e5e5e5 736px,#e3e3e3 768px,#e1e1e1 800px,#dfdfdf 832px,#dddddd 864px,#dadada 896px,#d7d7d7 928px,#d4d4d4 960px,#d0d0d0 992px,#cccccc 1016px)"></div>
<div style="top:300px;height:6px;background:linear-gradient(90deg,#cccccc 0px,#d1d1d1 32px,#d4d4d4 64px,#d8d8d8 96px,#dbdbdb 128px,#dddddd 160px,#e0e0e0 192px,#e2e2e2 224px,#e3e3e3 256px,#e5e5e5 288px,#e6e6e6 320px,#e7e7e7 352px,#e8e8e8 384px,#e9e9e9 416px,#eaeaea 448px,#ebebeb 480px,#ececec 512px,#ebebeb 544px,#eaeaea 576px,#e9e9e9 608px,#e8e8e8 640px,#e7e7e7 672px,#e6e6e6 704px,#e4e4e4 736px,#e3e3e3 768px,#e1e1e1 800px,#dfdfdf 832px,#dddddd 864px,#dadada 896px,#d7d7d7 928px,#d4d4d4 960px,#d0d0d0 992px,#cccccc 1016px)"></div>
<div style="top:306px;height:6px;background:linear-gradient(90deg,#cccccc 0px,#d0d0d0 32px,#d4d4d4 64px,#d8d8d8 96px,#dadada 128px,#dddddd 160px,#dfdfdf 192px,#e1e1e1 224px,#e3e3e3 256px,#e4e4e4 288px,#e6e6e6 320px,#e7e7e7 352px,#e8e8e8 384px,#e9e9e9 416px,#eaeaea 448px,#ebebeb 480px,#ebebeb 512px,#eaeaea 544px,#eaeaea 576px,#e9e9e9 608px,#e8e8e8 640px,#e7e7e7 672px,#e5e5e5 704px,#e4e4e4 736px,#e2e2e2 768px,#e1e1e1 800px,#dfdfdf 832px,#dcdcdc 864px,#dadada 896px,#d7d7d7 928px,#d3d3d3 960px,#cfcfcf 992px,#cccccc 1016px)"></div>
<div style="top:312px;height:6px;background:linear-gradient(90deg,#cccccc 0px,#d0d0d0 32px,#d4d4d4 64px,#d7d7d7 96px,#dadada 128px,#dddddd 160px,#dfdfdf 192px,#e1e1e1 224px,#e2e2e2 256px,#e4e4e4 288px,#e5e5e5 320px,#e6e6e6 352px,#e8e8e8 384px,#e9e9e9 416px,#e9e9e9 448px,#eaeaea 480px,#ebebeb 512px,#eaeaea 544px,#e9e9e9 576px,#e8e8e8 608px,#e7e7e7 640px,#e6e6e6 672px,#e5e5e5 704px,#e4e4e4 736px,#e2e2e2 768px,#e0e0e0 800px,#dedede 832px,#dcdcdc 864px,#d9d9d9 896px,#d6d6d6 928px,#d3d3d3 960px,#cfcfcf 992px,#cccccc 1016px)"></div>
<div style="top:318px;height:6px;background:linear-gradient(90deg,#cccccc 0px,#d0d0d0 32px,#d4d4d4 64px,#d7d7d7 96px,#dadada 128px,#dcdcdc 160px,#dedede 192px,#e0e0e0 224px,#e2e2e2 256px,#e4e4e4 288px,#e5e5e5 320px,#e6e6e6 352px,#e7e7e7 384px,#e8e8e8 416px,#e9e9e9 448px,#eaeaea 480px,#eaeaea 512px,#eaeaea 544px,#e9e9e9 576px,#e8e8e8 608px,#e7e7e7 640px,#e6e6e6 672px,#e5e5e5 704px,#e3e3e3 736px,#e2e2e2 768px,#e0e0e0 800px,#dedede 832px,#dcdcdc 864px,#d9d9d9 896px,#d6d6d6 928px,#d3d3d3 960px,#cfcfcf 992px,#cccccc 1016px)"></div>
<div style="top:324px;height:6px;background:linear-gradient(90deg,#cccccc 0px,#d0d0d0 32px,#d3d3d3 64px,#d7d7d7 96px,#d9d9d9 128px,#dcdcdc 160px,#dedede 192px,#e0e0e0 224px,#e2e2e2 256px,#e3e3e3 288px,#e4e4e4 320px,#e6e6e6 352px,#e7e7e7 384px,#e8e8e8 416px,#e9e9e9 448px,#e9e9e9 480px,#eaeaea 512px,#e9e9e9 544px,#e8e8e8 576px,#e7e7e7 608px,#e6e6e6 640px,#e5e5e5 672px,#e4e4e4 704px,#e3e3e3 736px,#e1e1e1 768px,#e0e0e0 800px,#dedede 832px,#dbdbdb 864px,#d9d9d9 896px,#d6d6d6 928px,#d3d3d3 960px,#cfcfcf 992px,#cccccc 1016px)"></div>
<div style="top:330px;height:6px;background:linear-gradient(90deg,#cccccc 0px,#d0d0d0 32px,#d3d3d3 64px,#d6d6d6 96px,#d9d9d9 128px,#dcdcdc 160px,#dedede 192px,#e0e0e0 224px,#e1e1e1 256px,#e3e3e3 288px,#e4e4e4 320px,#e5e5e5 352px,#e6e6e6 384px,#e7e7e7 416px,#e8e8e8 448px,#e9e9e9 480px,#e9e9e9 512px,#e9e9e9 544px,#e8e8e8 576px,#e7e7e7 608px,#e6e6e6 640px,#e5e5e5 672px,#e4e4e4 704px,#e2e2e2 736px,#e1e1e1 768px,#dfdfdf 800px,#dddddd 832px,#dbdbdb 864px,#d8d8d8 896px,#d6d6d6 928px,#d2d2d2 960px,#cfcfcf 992px,#cccccc 1016px)"></div>
<div style="top:336px;height:6px;background:linear-gradient(90deg,#cbcbcb 0px,#cfcfcf 32px,#d3d3d3 64px,#d6d6d6 96px,#d9d9d9 128px,#dbdbdb 160px,#dddddd 192px,#dfdfdf 224px,#e1e1e1 256px,#e2e2e2 288px,#e4e4e4 320px,#e5e5e5 352px,#e6e6e6 384px,#e7e7e7 416px,#e8e8e8 448px,#e8e8e8 480px,#e9e9e9 512px,#e8e8e8 544px,#e7e7e7 576px,#e7e7e7 608px,#e6e6e6 640px,#e4e4e4 672px,#e3e3e3 704px,#e2e2e2 736px,#e0e0e0 768px,#dfdfdf 800px,#dddddd 832px,#dbdbdb 864px,#d8d8d8 896px,#d5d5d5 928px,#d2d2d2 960px,#cecece 992px,#cbcbcb 1016px)"></div>
<div style="top:342px;height:6px;background:linear-gradient(90deg,#cbcbcb 0px,#cfcfcf 32px,#d3d3d3 64px,#d6d6d6 96px,#d8d8d8 128px,#dbdbdb 160px,#dddddd 192px,#dfdfdf 224px,#e0e0e0 256px,#e2e2e2 288px,#e3e3e3 320px,#e4e4e4 352px,#e5e5e5 384px,#e6e6e6 416px,#e7e7e7 448px,#e8e8e8 480px,#e9e9e9 512px,#e8e8e8 544px,#e7e7e7 576px,#e6e6e6 608px,#e5e5e5 640px,#e4e4e4 672px,#e3e3e3 704px,#e1e1e1 736px,#e0e0e0 768px,#dedede 800px,#dcdcdc 832px,#dadada 864px,#d8d8d8 896px,#d5d5d5 928px,#d2d2d2 960px,#cecece 992px,#cbcbcb 1016px)"></div>
<div style="top:348px;height:6px;background:linear-gradient(90deg,#cbcbcb 0px,#cfcfcf 32px,#d2d2d2 64px,#d5d5d5 96px,#d8d8d8 128px,#dadada 160px,#dddddd 192px,#dedede 224px,#e0e0e0 256px,#e1e1e1 288px,#e3e3e3 320px,#e4e4e4 352px,#e5e5e5 384px,#e6e6e6 416px,#e7e7e7 448px,#e8e8e8 480px,#e8e8e8 512px,#e7e7e7 544px,#e7e7e7 576px,#e6e6e6 608px,#e5e5e5 640px,#e4e4e4 672px,#e2e2e2 704px,#e1e1e1 736px,#e0e0e0 768px,#dedede 800px,#dcdcdc 832px,#dadada 864px,#d7d7d7 896px,#d5d5d5 928px,#d2d2d2 960px,#cecece 992px,#cbcbcb 1016px)"></div>
<div style="top:354px;height:6px;background:linear-gradient(90deg,#cbcbcb 0px,#cfcfcf 32px,#d2d2d2 64px,#d5d5d5 96px,#d8d8d8 128px,#dadada 160px,#dcdcdc 192px,#dedede 224px,#e0e0e0 256px,#e1e1e1 288px,#e2e2e2 320px,#e3e3e3 352px,#e4e4e4 384px,#e5e5e5 416px,#e6e6e6 448px,#e7e7e7 480px,#e8e8e8 512px,#e7e7e7 544px,#e6e6e6 576px,#e5e5e5 608px,#e4e4e4 640px,#e3e3e3 672px,#e2e2e2 704px,#e1e1e1 736px,#dfdfdf 768px,#dedede 800px,#dcdcdc 832px,#dadada 864px,#d7d7d7 896px,#d4d4d4 928px,#d1d1d1 960px,#cecece 992px,#cbcbcb 1016px)"></div>
<div style="top:360px;height:6px;background:linear-gradient(90deg,#cbcbcb 0px,#cfcfcf 32px,#d2d2d2 64px,#d5d5d5 96px,#d7d7d7 128px,#dadada 160px,#dcdcdc 192px,#dedede 224px,#dfdfdf 256px,#e1e1e1 288px,#e2e2e2 320px,#e3e3e3 352px,#e4e4e4 384px,#e5e5e5 416px,#e6e6e6 448px,#e7e7e7 480px,#e7e7e7 512px,#e6e6e6 544px,#e6e6e6 576px,#e5e5e5 608px,#e4e4e4 640px,#e3e3e3 672px,#e1e1e1 704px,#e0e0e0 736px,#dfdfdf 768px,#dddddd 800px,#dbdbdb 832px,#d9d9d9 864px,#d7d7d7 896px,#d4d4d4 928px,#d1d1d1 960px,#cecece 992px,#cbcbcb 1016px)"></div>
<div style="top:366px;height:6px;background:linear-gradient(90deg,#cbcbcb 0px,#cecece 32px,#d2d2d2 64px,#d5d5d5 96px,#d7d7d7 128px,#d9d9d9 160px,#dbdbdb 192px,#dddddd 224px,#dfdfdf 256px,#e0e0e0 288px,#e1e1e1 320px,#e3e3e3 352px,#e4e4e4 384px,#e5e5e5 416px,#e5e5e5 448px,#e6e6e6 480px,#e7e7e7 512px,#e6e6e6 544px,#e5e5e5 576px,#e4e4e4 608px,#e3e3e3 640px,#e2e2e2 672px,#e1e1e1 704px,#e0e0e0 736px,#dedede 768px,#dddddd 800px,#dbdbdb 832px,#d9d9d9 864px,#d6d6d6 896px,#d4d4d4 928px,#d1d1d1 960px,#cdcdcd 992px,#cbcbcb 1016px)"></div>
<div style="top:372px;height:6px;background:linear-gradient(90deg,#cacaca 0px,#cecece 32px,#d1d1d1 64px,#d4d4d4 96px,#d7d7d7 128px,#d9d9d9 160px,#dbdbdb 192px,#dddddd 224px,#dedede 256px,#e0e0e0 288px,#e1e1e1 320px,#e2e2e2 352px,#e3e3e3 384px,#e4e4e4 416px,#e5e5e5 448px,#e6e6e6 480px,#e6e6e6 512px,#e6e6e6 544px,#e5e5e5 576px,#e4e4e4 608px,#e3e3e3 640px,#e2e2e2 672px,#e1e1e1 704px,#dfdfdf 736px,#dedede 768px,#dcdcdc 800px,#dadada 832px,#d8d8d8 864px,#d6d6d6 896px,#d4d4d4 928px,#d1d1d1 960px,#cdcdcd 992px,#cacaca 1016px)"></div>
<div style="top:378px;height:6px;background:linear-gradient(90deg,#cacaca 0px,#cecece 32px,#d1d1d1 64px,#d4d4d4 96px,#d6d6d6 128px,#d9d9d9 160px,#dbdbdb 192px,#dcdcdc 224px,#dedede 256px,#dfdfdf 288px,#e0e0e0 320px,#e2e2e2 352px,#e3e3e3 384px,#e4e4e4 416px,#e4e4e4 448px,#e5e5e5 480px,#e6e6e6 512px,#e5e5e5 544px,#e4e4e4 576px,#e3e3e3 608px,#e2e2e2 640px,#e1e1e1 672px,#e0e0e0 704px,#dfdfdf 736px,#dddddd 768px,#dcdcdc 800px,#dadada 832px,#d8d8d8 864px,#d6d6d6 896px,#d3d3d3 928px,#d0d0d0 960px,#cdcdcd 992px,#cacaca 1016px)"></div>
<div style="top:384px;height:6px;background:linear-gradient(90deg,#cacaca 0px,#cecece 32px,#d1d1d1 64px,#d4d4d4 96px,#d6d6d6 128px,#d8d8d8 160px,#dadada 192px,#dcdcdc 224px,#dddddd 256px,#dfdfdf 288px,#e0e0e0 320px,#e1e1e1 352px,#e2e2e2 384px,#e3e3e3 416px,#e4e4e4 448px,#e5e5e5 480px,#e5e5e5 512px,#e5e5e5 544px,#e4e4e4 576px,#e3e3e3 608px,#e2e2e2 640px,#e1e1e1 672px,#e0e0e0 704px,#dedede 736px,#dddddd 768px,#dbdbdb 800px,#dadada 832px,#d8d8d8 864px,#d5d5d5 896px,#d3d3d3 928px,#d0d0d0 960px,#cdcdcd 992px,#cacaca 1016px)"></div>
<div style="top:390px;height:6px;background:linear-gradient(90deg,#cacaca 0px,#cdcdcd 32px,#d0d0d0 64px,#d3d3d3 96px,#d6d6d6 128px,#d8d8d8 160px,#dadada 192px,#dbdbdb 224px,#dddddd 256px,#dedede 288px,#e0e0e0 320px,#e1e1e1 352px,#e2e2e2 384px,#e3e3e3 416px,#e4e4e4 448px,#e4e4e4 480px,#e5e5e5 512px,#e4e4e4 544px,#e3e3e3 576px,#e2e2e2 608px,#e2e2e2 640px,#e0e0e0 672px,#dfdfdf 704px,#dedede 736px,#dddddd 768px,#dbdbdb 800px,#d9d9d9 832px,#d7d7d7 864px,#d5d5d5 896px,#d3d3d3 928px,#d0d0d0 960px,#cdcdcd 992px,#cacaca 1016px)"></div>
<div style="top:396px;height:6px;background:linear-gradient(90deg,#cacaca 0px,#cdcdcd 32px,#d0d0d0 64px,#d3d3d3 96px,#d5d5d5 128px,#d7d7d7 160px,#d9d9d9 192px,#dbdbdb 224px,#dddddd 256px,#dedede 288px,#dfdfdf 320px,#e0e0e0 352px,#e1e1e1 384px,#e2e2e2 416px,#e3e3e3 448px,#e4e4e4 480px,#e4e4e4 512px,#e4e4e4 544px,#e3e3e3 576px,#e2e2e2 608px,#e1e1e1 640px,#e0e0e0 672px,#dfdfdf 704px,#dedede 736px,#dcdcdc 768px,#dbdbdb 800px,#d9d9d9 832px,#d7d7d7 864px,#d5d5d5 896px,#d2d2d2 928px,#cfcfcf 960px,#cccccc 992px,#cacaca 1016px)"></div>
<div style="top:402px;height:6px;background:linear-gradient(90deg,#c9c9c9 0px,#cdcdcd 32px,#d0d0d0 64px,#d3d3d3 96px,#d5d5d5 128px,#d7d7d7 160px,#d9d9d9 192px,#dbdbdb 224px,#dcdcdc 256px,#dddddd 288px,#dfdfdf 320px,#e0e0e0 352px,#e1e1e1 384px,#e2e2e2 416px,#e3e3e3 448px,#e3e3e3 480px,#e4e4e4 512px,#e3e3e3 544px,#e2e2e2 576px,#e2e2e2 608px,#e1e1e1 640px,#e0e0e0 672px,#dedede 704px,#dddddd 736px,#dcdcdc 768px,#dadada 800px,#d9d9d9 832px,#d7d7d7 864px,#d4d4d4 896px,#d2d2d2 928px,#cfcfcf 960px,#cccccc 992px,#c9c9c9 1016px)"></div>
<div style="top:408px;height:6px;background:linear-gradient(90deg,#c9c9c9 0px,#cdcdcd 32px,#d0d0d0 64px,#d2d2d2 96px,#d5d5d5 128px,#d7d7d7 160px,#d9d9d9 192px,#dadada 224px,#dcdcdc 256px,#dddddd 288px,#dedede 320px,#dfdfdf 352px,#e0e0e0 384px,#e1e1e1 416px,#e2e2e2 448px,#e3e3e3 480px,#e4e4e4 512px,#e3e3e3 544px,#e2e2e2 576px,#e1e1e1 608px,#e0e0e0 640px,#dfdfdf 672px,#dedede 704px,#dddddd 736px,#dbdbdb 768px,#dadada 800px,#d8d8d8 832px,#d6d6d6 864px,#d4d4d4 896px,#d2d2d2 928px,#cfcfcf 960px,#cccccc 992px,#c9c9c9 1016px)"></div>
<div style="top:414px;height:6px;background:linear-gradient(90deg,#c9c9c9 0px,#cccccc 32px,#cfcfcf 64px,#d2d2d2 96px,#d4d4d4 128px,#d6d6d6 160px,#d8d8d8 192px,#dadada 224px,#dbdbdb 256px,#dddddd 288px,#dedede 320px,#dfdfdf 352px,#e0e0e0 384px,#e1e1e1 416px,#e2e2e2 448px,#e3e3e3 480px,#e3e3e3 512px,#e2e2e2 544px,#e2e2e2 576px,#e1e1e1 608px,#e0e0e0 640px,#dfdfdf 672px,#dedede 704px,#dcdcdc 736px,#dbdbdb 768px,#d9d9d9 800px,#d8d8d8 832px,#d6d6d6 864px,#d4d4d4 896px,#d1d1d1 928px,#cfcfcf 960px,#cccccc 992px,#c9c9c9 1016px)"></div>
<div style="top:420px;height:6px;background:linear-gradient(90deg,#c9c9c9 0px,#cccccc 32px,#cfcfcf 64px,#d2d2d2 96px,#d4d4d4 128px,#d6d6d6 160px,#d8d8d8 192px,#d9d9d9 224px,#dbdbdb 256px,#dcdcdc 288px,#dddddd 320px,#dedede 352px,#e0e0e0 384px,#e0e0e0 416px,#e1e1e1 448px,#e2e2e2 480px,#e3e3e3 512px,#e2e2e2 544px,#e1e1e1 576px,#e0e0e0 608px,#dfdfdf 640px,#dedede 672px,#dddddd 704px,#dcdcdc 736px,#dbdbdb 768px,#d9d9d9 800px,#d7d7d7 832px,#d5d5d5 864px,#d3d3d3 896px,#d1d1d1 928px,#cecece 960px,#cbcbcb 992px,#c9c9c9 1016px)"></div>
<div style="top:426px;height:6px;background:linear-gradient(90deg,#c9c9c9 0px,#cccccc 32px,#cfcfcf 64px,#d1d1d1 96px,#d3d3d3 128px,#d6d6d6 160px,#d7d7d7 192px,#d9d9d9 224px,#dadada 256px,#dcdcdc 288px,#dddddd 320px,#dedede 352px,#dfdfdf 384px,#e0e0e0 416px,#e1e1e1 448px,#e2e2e2 480px,#e2e2e2 512px,#e1e1e1 544px,#e1e1e1 576px,#e0e0e0 608px,#dfdfdf 640px,#dedede 672px,#dddddd 704px,#dbdbdb 736px,#dadada 768px,#d9d9d9 800px,#d7d7d7 832px,#d5d5d5 864px,#d3d3d3 896px,#d1d1d1 928px,#cecece 960px,#cbcbcb 992px,#c9c9c9 1016px)"></div>
<div style="top:432px;height:6px;background:linear-gradient(90deg,#c8c8c8 0px,#cbcbcb 32px,#cecece 64px,#d1d1d1 96px,#d3d3d3 128px,#d5d5d5 160px,#d7d7d7 192px,#d9d9d9 224px,#dadada 256px,#dbdbdb 288px,#dcdcdc 320px,#dedede 352px,#dfdfdf 384px,#e0e0e0 416px,#e0e0e0 448px,#e1e1e1 480px,#e2e2e2 512px,#e1e1e1 544px,#e0e0e0 576px,#dfdfdf 608px,#dedede 640px,#dddddd 672px,#dcdcdc 704px,#dbdbdb 736px,#dadada 768px,#d8d8d8 800px,#d6d6d6 832px,#d5d5d5 864px,#d3d3d3 896px,#d0d0d0 928px,#cecece 960px,#cbcbcb 992px,#c8c8c8 1016px)"></div>
<div style="top:438px;height:6px;background:linear-gradient(90deg,#c8c8c8 0px,#cbcbcb 32px,#cecece 64px,#d0d0d0 96px,#d3d3d3 128px,#d5d5d5 160px,#d7d7d7 192px,#d8d8d8 224px,#dadada 256px,#dbdbdb 288px,#dcdcdc 320px,#dddddd 352px,#dedede 384px,#dfdfdf 416px,#e0e0e0 448px,#e1e1e1 480px,#e1e1e1 512px,#e1e1e1 544px,#e0e0e0 576px,#dfdfdf 608px,#dedede 640px,#dddddd 672px,#dcdcdc 704px,#dbdbdb 736px,#d9d9d9 768px,#d8d8d8 800px,#d6d6d6 832px,#d4d4d4 864px,#d2d2d2 896px,#d0d0d0 928px,#cdcdcd 960px,#cacaca 992px,#c8c8c8 1016px)"></div>
<div style="top:444px;height:6px;background:linear-gradient(90deg,#c8c8c8 0px,#cbcbcb 32px,#cecece 64px,#d0d0d0 96px,#d2d2d2 128px,#d4d4d4 160px,#d6d6d6 192px,#d8d8d8 224px,#d9d9d9 256px,#dadada 288px,#dcdcdc 320px,#dddddd 352px,#dedede 384px,#dfdfdf 416px,#dfdfdf 448px,#e0e0e0 480px,#e1e1e1 512px,#e0e0e0 544px,#dfdfdf 576px,#dedede 608px,#dddddd 640px,#dcdcdc 672px,#dbdbdb 704px,#dadada 736px,#d9d9d9 768px,#d7d7d7 800px,#d6d6d6 832px,#d4d4d4 864px,#d2d2d2 896px,#d0d0d0 928px,#cdcdcd 960px,#cacaca 992px,#c8c8c8 1016px)"></div>
<div style="top:450px;height:6px;background:linear-gradient(90deg,#c8c8c8 0px,#cbcbcb 32px,#cdcdcd 64px,#d0d0d0 96px,#d2d2d2 128px,#d4d4d4 160px,#d6d6d6 192px,#d7d7d7 224px,#d9d9d9 256px,#dadada 288px,#dbdbdb 320px,#dcdcdc 352px,#dddddd 384px,#dedede 416px,#dfdfdf 448px,#e0e0e0 480px,#e0e0e0 512px,#e0e0e0 544px,#dfdfdf 576px,#dedede 608px,#dddddd 640px,#dcdcdc 672px,#dbdbdb 704px,#dadada 736px,#d8d8d8 768px,#d7d7d7 800px,#d5d5d5 832px,#d3d3d3 864px,#d1d1d1 896px,#cfcfcf 928px,#cdcdcd 960px,#cacaca 992px,#c8c8c8 1016px)"></div>
<div style="top:456px;height:6px;background:linear-gradient(90deg,#c7c7c7 0px,#cacaca 32px,#cdcdcd 64px,#cfcfcf 96px,#d2d2d2 128px,#d4d4d4 160px,#d5d5d5 192px,#d7d7d7 224px,#d8d8d8 256px,#dadada 288px,#dbdbdb 320px,#dcdcdc 352px,#dddddd 384px,#dedede 416px,#dfdfdf 448px,#dfdfdf 480px,#e0e0e0 512px,#dfdfdf 544px,#dedede 576px,#dddddd 608px,#dddddd 640px,#dcdcdc 672px,#dadada 704px,#d9d9d9 736px,#d8d8d8 768px,#d6d6d6 800px,#d5d5d5 832px,#d3d3d3 864px,#d1d1d1 896px,#cfcfcf 928px,#cccccc 960px,#cacaca 992px,#c7c7c7 1016px)"></div>
<div style="top:462px;height:6px;background:linear-gradient(90deg,#c7c7c7 0px,#cacaca 32px,#cdcdcd 64px,#cfcfcf 96px,#d1d1d1 128px,#d3d3d3 160px,#d5d5d5 192px,#d6d6d6 224px,#d8d8d8 256px,#d9d9d9 288px,#dadada 320px,#dbdbdb 352px,#dcdcdc 384px,#dddddd 416px,#dedede 448px,#dfdfdf 480px,#dfdfdf 512px,#dfdfdf 544px,#dedede 576px,#dddddd 608px,#dcdcdc 640px,#dbdbdb 672px,#dadada 704px,#d9d9d9 736px,#d7d7d7 768px,#d6d6d6 800px,#d4d4d4 832px,#d3d3d3 864px,#d1d1d1 896px,#cfcfcf 928px,#cccccc 960px,#c9c9c9 992px,#c7c7c7 1016px)"></div>
<div style="top:468px;height:6px;background:linear-gradient(90deg,#c7c7c7 0px,#cacaca 32px,#cccccc 64px,#cfcfcf 96px,#d1d1d1 128px,#d3d3d3 160px,#d4d4d4 192px,#d6d6d6 224px,#d7d7d7 256px,#d9d9d9 288px,#dadada 320px,#dbdbdb 352px,#dcdcdc 384px,#dddddd 416px,#dedede 448px,#dedede 480px,#dfdfdf 512px,#dedede 544px,#dddddd 576px,#dddddd 608px,#dcdcdc 640px,#dbdbdb 672px,#dadada 704px,#d8d8d8 736px,#d7d7d7 768px,#d6d6d6 800px,#d4d4d4 832px,#d2d2d2 864px,#d0d0d0 896px,#cecece 928px,#cccccc 960px,#c9c9c9 992px,#c7c7c7 1016px)"></div>
<div style="top:474px;height:6px;background:linear-gradient(90deg,#c7c7c7 0px,#c9c9c9 32px,#cccccc 64px,#cecece 96px,#d0d0d0 128px,#d2d2d2 160px,#d4d4d4 192px,#d6d6d6 224px,#d7d7d7 256px,#d8d8d8 288px,#d9d9d9 320px,#dadada 352px,#dbdbdb 384px,#dcdcdc 416px,#dddddd 448px,#dedede 480px,#dfdfdf 512px,#dedede 544px,#dddddd 576px,#dcdcdc 608px,#dbdbdb 640px,#dadada 672px,#d9d9d9 704px,#d8d8d8 736px,#d7d7d7 768px,#d5d5d5 800px,#d4d4d4 832px,#d2d2d2 864px,#d0d0d0 896px,#cecece 928px,#cbcbcb 960px,#c9c9c9 992px,#c7c7c7 1016px)"></div>
<div style="top:480px;height:6px;background:linear-gradient(90deg,#c6c6c6 0px,#c9c9c9 32px,#cccccc 64px,#cecece 96px,#d0d0d0 128px,#d2d2d2 160px,#d4d4d4 192px,#d5d5d5 224px,#d7d7d7 256px,#d8d8d8 288px,#d9d9d9 320px,#dadada 352px,#dbdbdb 384px,#dcdcdc 416px,#dddddd 448px,#dedede 480px,#dedede 512px,#dddddd 544px,#dddddd 576px,#dcdcdc 608px,#dbdbdb 640px,#dadada 672px,#d9d9d9 704px,#d7d7d7 736px,#d6d6d6 768px,#d5d5d5 800px,#d3d3d3 832px,#d1d1d1 864px,#d0d0d0 896px,#cdcdcd 928px,#cbcbcb 960px,#c8c8c8 992px,#c6c6c6 1016px)"></div>
<div style="top:486px;height:6px;background:linear-gradient(90deg,#c6c6c6 0px,#c9c9c9 32px,#cbcbcb 64px,#cecece 96px,#d0d0d0 128px,#d2d2d2 160px,#d3d3d3 192px,#d5d5d5 224px,#d6d6d6 256px,#d7d7d7 288px,#d8d8d8 320px,#dadada 352px,#dbdbdb 384px,#dbdbdb 416px,#dcdcdc 448px,#dddddd 480px,#dedede 512px,#dddddd 544px,#dcdcdc 576px,#dbdbdb 608px,#dadada 640px,#d9d9d9 672px,#d8d8d8 704px,#d7d7d7 736px,#d6d6d6 768px,#d4d4d4 800px,#d3d3d3 832px,#d1d1d1 864px,#cfcfcf 896px,#cdcdcd 928px,#cbcbcb 960px,#c8c8c8 992px,#c6c6c6 1016px)"></div>
<div style="top:492px;height:6px;background:linear-gradient(90deg,#c6c6c6 0px,#c9c9c9 32px,#cbcbcb 64px,#cdcdcd 96px,#cfcfcf 128px,#d1d1d1 160px,#d3d3d3 192px,#d4d4d4 224px,#d6d6d6 256px,#d7d7d7 288px,#d8d8d8 320px,#d9d9d9 352px,#dadada 384px,#dbdbdb 416px,#dcdcdc 448px,#dddddd 480px,#dddddd 512px,#dcdcdc 544px,#dcdcdc 576px,#dbdbdb 608px,#dadada 640px,#d9d9d9 672px,#d8d8d8 704px,#d7d7d7 736px,#d5d5d5 768px,#d4d4d4 800px,#d2d2d2 832px,#d1d1d1 864px,#cfcfcf 896px,#cdcdcd 928px,#cacaca 960px,#c8c8c8 992px,#c6c6c6 1016px)"></div>
<div style="top:498px;height:6px;background:linear-gradient(90deg,#c5c5c5 0px,#c8c8c8 32px,#cbcbcb 64px,#cdcdcd 96px,#cfcfcf 128px,#d1d1d1 160px,#d2d2d2 192px,#d4d4d4 224px,#d5d5d5 256px,#d6d6d6 288px,#d8d8d8 320px,#d9d9d9 352px,#dadada 384px,#dbdbdb 416px,#dbdbdb 448px,#dcdcdc 480px,#dddddd 512px,#dcdcdc 544px,#dbdbdb 576px,#dadada 608px,#d9d9d9 640px,#d8d8d8 672px,#d7d7d7 704px,#d6d6d6 736px,#d5d5d5 768px,#d3d3d3 800px,#d2d2d2 832px,#d0d0d0 864px,#cecece 896px,#cccccc 928px,#cacaca 960px,#c8c8c8 992px,#c5c5c5 1016px)"></div>
<div style="top:504px;height:6px;background:linear-gradient(90deg,#c5c5c5 0px,#c8c8c8 32px,#cacaca 64px,#cdcdcd 96px,#cfcfcf 128px,#d0d0d0 160px,#d2d2d2 192px,#d3d3d3 224px,#d5d5d5 256px,#d6d6d6 288px,#d7d7d7 320px,#d8d8d8 352px,#d9d9d9 384px,#dadada 416px,#dbdbdb 448px,#dcdcdc 480px,#dcdcdc 512px,#dcdcdc 544px,#dbdbdb 576px,#dadada 608px,#d9d9d9 640px,#d8d8d8 672px,#d7d7d7 704px,#d6d6d6 736px,#d4d4d4 768px,#d3d3d3 800px,#d2d2d2 832px,#d0d0d0 864px,#cecece 896px,#cccccc 928px,#cacaca 960px,#c7c7c7 992px,#c5c5c5 1016px)"></div>
<div style="top:510px;height:6px;background:linear-gradient(90deg,#c5c5c5 0px,#c8c8c8 32px,#cacaca 64px,#cccccc 96px,#cecece 128px,#d0d0d0 160px,#d1d1d1 192px,#d3d3d3 224px,#d4d4d4 256px,#d6d6d6 288px,#d7d7d7 320px,#d8d8d8 352px,#d9d9d9 384px,#dadada 416px,#dadada 448px,#dbdbdb 480px,#dcdcdc 512px,#dbdbdb 544px,#dadada 576px,#d9d9d9 608px,#d8d8d8 640px,#d7d7d7 672px,#d6d6d6 704px,#d5d5d5 736px,#d4d4d4 768px,#d3d3d3 800px,#d1d1d1 832px,#cfcfcf 864px,#cecece 896px,#cccccc 928px,#c9c9c9 960px,#c7c7c7 992px,#c5c5c5 1016px)"></div>
<div style="top:516px;height:6px;background:linear-gradient(90deg,#c5c5c5 0px,#c7c7c7 32px,#cacaca 64px,#cccccc 96px,#cecece 128px,#cfcfcf 160px,#d1d1d1 192px,#d3d3d3 224px,#d4d4d4 256px,#d5d5d5 288px,#d6d6d6 320px,#d7d7d7 352px,#d8d8d8 384px,#d9d9d9 416px,#dadada 448px,#dbdbdb 480px,#dbdbdb 512px,#dbdbdb 544px,#dadada 576px,#d9d9d9 608px,#d8d8d8 640px,#d7d7d7 672px,#d6d6d6 704px,#d5d5d5 736px,#d4d4d4 768px,#d2d2d2 800px,#d1d1d1 832px,#cfcfcf 864px,#cdcdcd 896px,#cbcbcb 928px,#c9c9c9 960px,#c7c7c7 992px,#c5c5c5 1016px)"></div>
<div style="top:522px;height:6px;background:linear-gradient(90deg,#c4c4c4 0px,#c7c7c7 32px,#c9c9c9 64px,#cbcbcb 96px,#cdcdcd 128px,#cfcfcf 160px,#d1d1d1 192px,#d2d2d2 224px,#d3d3d3 256px,#d5d5d5 288px,#d6d6d6 320px,#d7d7d7 352px,#d8d8d8 384px,#d9d9d9 416px,#dadada 448px,#dadada 480px,#dbdbdb 512px,#dadada 544px,#d9d9d9 576px,#d8d8d8 608px,#d8d8d8 640px,#d7d7d7 672px,#d5d5d5 704px,#d4d4d4 736px,#d3d3d3 768px,#d2d2d2 800px,#d0d0d0 832px,#cfcfcf 864px,#cdcdcd 896px,#cbcbcb 928px,#c9c9c9 960px,#c6c6c6 992px,#c4c4c4 1016px)"></div>
<div style="top:528px;height:6px;background:linear-gradient(90deg,#c4c4c4 0px,#c7c7c7 32px,#c9c9c9 64px,#cbcbcb 96px,#cdcdcd 128px,#cfcfcf 160px,#d0d0d0 192px,#d2d2d2 224px,#d3d3d3 256px,#d4d4d4 288px,#d5d5d5 320px,#d6d6d6 352px,#d7d7d7 384px,#d8d8d8 416px,#d9d9d9 448px,#dadada 480px,#dadada 512px,#dadada 544px,#d9d9d9 576px,#d8d8d8 608px,#d7d7d7 640px,#d6d6d6 672px,#d5d5d5 704px,#d4d4d4 736px,#d3d3d3 768px,#d1d1d1 800px,#d0d0d0 832px,#cecece 864px,#cccccc 896px,#cacaca 928px,#c8c8c8 960px,#c6c6c6 992px,#c4c4c4 1016px)"></div>
<div style="top:534px;height:6px;background:linear-gradient(90deg,#c4c4c4 0px,#c6c6c6 32px,#c9c9c9 64px,#cbcbcb 96px,#cdcdcd 128px,#cecece 160px,#d0d0d0 192px,#d1d1d1 224px,#d3d3d3 256px,#d4d4d4 288px,#d5d5d5 320px,#d6d6d6 352px,#d7d7d7 384px,#d8d8d8 416px,#d9d9d9 448px,#d9d9d9 480px,#dadada 512px,#d9d9d9 544px,#d8d8d8 576px,#d8d8d8 608px,#d7d7d7 640px,#d6d6d6 672px,#d5d5d5 704px,#d3d3d3 736px,#d2d2d2 768px,#d1d1d1 800px,#cfcfcf 832px,#cecece 864px,#cccccc 896px,#cacaca 928px,#c8c8c8 960px,#c6c6c6 992px,#c4c4c4 1016px)"></div>
<div style="top:540px;height:6px;background:linear-gradient(90deg,#c3c3c3 0px,#c6c6c6 32px,#c8c8c8 64px,#cacaca 96px,#cccccc 128px,#cecece 160px,#cfcfcf 192px,#d1d1d1 224px,#d2d2d2 256px,#d3d3d3 288px,#d4d4d4 320px,#d5d5d5 352px,#d6d6d6 384px,#d7d7d7 416px,#d8d8d8 448px,#d9d9d9 480px,#d9d9d9 512px,#d9d9d9 544px,#d8d8d8 576px,#d7d7d7 608px,#d6d6d6 640px,#d5d5d5 672px,#d4d4d4 704px,#d3d3d3 736px,#d2d2d2 768px,#d0d0d0 800px,#cfcfcf 832px,#cdcdcd 864px,#cccccc 896px,#cacaca 928px,#c8c8c8 960px,#c5c5c5 992px,#c3c3c3 1016px)"></div>
<div style="top:546px;height:6px;background:linear-gradient(90deg,#c3c3c3 0px,#c6c6c6 32px,#c8c8c8 64px,#cacaca 96px,#cccccc 128px,#cdcdcd 160px,#cfcfcf 192px,#d0d0d0 224px,#d2d2d2 256px,#d3d3d3 288px,#d4d4d4 320px,#d5d5d5 352px,#d6d6d6 384px,#d7d7d7 416px,#d8d8d8 448px,#d8d8d8 480px,#d9d9d9 512px,#d8d8d8 544px,#d7d7d7 576px,#d7d7d7 608px,#d6d6d6 640px,#d5d5d5 672px,#d4d4d4 704px,#d3d3d3 736px,#d1d1d1 768px,#d0d0d0 800px,#cfcfcf 832px,#cdcdcd 864px,#cbcbcb 896px,#c9c9c9 928px,#c7c7c7 960px,#c5c5c5 992px,#c3c3c3 1016px)"></div>
<div style="top:552px;height:6px;background:linear-gradient(90deg,#c3c3c3 0px,#c5c5c5 32px,#c7c7c7 64px,#c9c9c9 96px,#cbcbcb 128px,#cdcdcd 160px,#cfcfcf 192px,#d0d0d0 224px,#d1d1d1 256px,#d2d2d2 288px,#d3d3d3 320px,#d5d5d5 352px,#d5d5d5 384px,#d6d6d6 416px,#d7d7d7 448px,#d8d8d8 480px,#d9d9d9 512px,#d8d8d8 544px,#d7d7d7 576px,#d6d6d6 608px,#d5d5d5 640px,#d4d4d4 672px,#d3d3d3 704px,#d2d2d2 736px,#d1d1d1 768px,#d0d0d0 800px,#cecece 832px,#cdcdcd 864px,#cbcbcb 896px,#c9c9c9 928px,#c7c7c7 960px,#c5c5c5 992px,#c3c3c3 1016px)"></div>
<div style="top:558px;height:6px;background:linear-gradient(90deg,#c2c2c2 0px,#c5c5c5 32px,#c7c7c7 64px,#c9c9c9 96px,#cbcbcb 128px,#cdcdcd 160px,#cecece 192px,#cfcfcf 224px,#d1d1d1 256px,#d2d2d2 288px,#d3d3d3 320px,#d4d4d4 352px,#d5d5d5 384px,#d6d6d6 416px,#d7d7d7 448px,#d8d8d8 480px,#d8d8d8 512px,#d7d7d7 544px,#d7d7d7 576px,#d6d6d6 608px,#d5d5d5 640px,#d4d4d4 672px,#d3d3d3 704px,#d2d2d2 736px,#d0d0d0 768px,#cfcfcf 800px,#cecece 832px,#cccccc 864px,#cacaca 896px,#c9c9c9 928px,#c7c7c7 960px,#c4c4c4 992px,#c2c2c2 1016px)"></div>
<div style="top:564px;height:6px;background:linear-gradient(90deg,#c2c2c2 0px,#c5c5c5 32px,#c7c7c7 64px,#c9c9c9 96px,#cacaca 128px,#cccccc 160px,#cecece 192px,#cfcfcf 224px,#d0d0d0 256px,#d1d1d1 288px,#d3d3d3 320px,#d4d4d4 352px,#d5d5d5 384px,#d5d5d5 416px,#d6d6d6 448px,#d7d7d7 480px,#d8d8d8 512px,#d7d7d7 544px,#d6d6d6 576px,#d5d5d5 608px,#d4d4d4 640px,#d3d3d3 672px,#d2d2d2 704px,#d1d1d1 736px,#d0d0d0 768px,#cfcfcf 800px,#cdcdcd 832px,#cccccc 864px,#cacaca 896px,#c8c8c8 928px,#c6c6c6 960px,#c4c4c4 992px,#c2c2c2 1016px)"></div>
<div style="top:570px;height:6px;background:linear-gradient(90deg,#c2c2c2 0px,#c4c4c4 32px,#c6c6c6 64px,#c8c8c8 96px,#cacaca 128px,#cccccc 160px,#cdcdcd 192px,#cfcfcf 224px,#d0d0d0 256px,#d1d1d1 288px,#d2d2d2 320px,#d3d3d3 352px,#d4d4d4 384px,#d5d5d5 416px,#d6d6d6 448px,#d7d7d7 480px,#d7d7d7 512px,#d6d6d6 544px,#d6d6d6 576px,#d5d5d5 608px,#d4d4d4 640px,#d3d3d3 672px,#d2d2d2 704px,#d1d1d1 736px,#d0d0d0 768px,#cecece 800px,#cdcdcd 832px,#cbcbcb 864px,#cacaca 896px,#c8c8c8 928px,#c6c6c6 960px,#c4c4c4 992px,#c2c2c2 1016px)"></div>
<div style="top:576px;height:6px;background:linear-gradient(90deg,#c1c1c1 0px,#c4c4c4 32px,#c6c6c6 64px,#c8c8c8 96px,#cacaca 128px,#cbcbcb 160px,#cdcdcd 192px,#cecece 224px,#cfcfcf 256px,#d1d1d1 288px,#d2d2d2 320px,#d3d3d3 352px,#d4d4d4 384px,#d5d5d5 416px,#d5d5d5 448px,#d6d6d6 480px,#d7d7d7 512px,#d6d6d6 544px,#d5d5d5 576px,#d4d4d4 608px,#d3d3d3 640px,#d2d2d2 672px,#d1d1d1 704px,#d0d0d0 736px,#cfcfcf 768px,#cecece 800px,#cccccc 832px,#cbcbcb 864px,#c9c9c9 896px,#c7c7c7 928px,#c5c5c5 960px,#c3c3c3 992px,#c1c1c1 1016px)"></div>
<div style="top:582px;height:6px;background:linear-gradient(90deg,#c1c1c1 0px,#c3c3c3 32px,#c6c6c6 64px,#c7c7c7 96px,#c9c9c9 128px,#cbcbcb 160px,#cccccc 192px,#cecece 224px,#cfcfcf 256px,#d0d0d0 288px,#d1d1d1 320px,#d2d2d2 352px,#d3d3d3 384px,#d4d4d4 416px,#d5d5d5 448px,#d6d6d6 480px,#d6d6d6 512px,#d6d6d6 544px,#d5d5d5 576px,#d4d4d4 608px,#d3d3d3 640px,#d2d2d2 672px,#d1d1d1 704px,#d0d0d0 736px,#cfcfcf 768px,#cdcdcd 800px,#cccccc 832px,#cacaca 864px,#c9c9c9 896px,#c7c7c7 928px,#c5c5c5 960px,#c3c3c3 992px,#c1c1c1 1016px)"></div>
<div style="top:588px;height:2px;background:linear-gradient(90deg,#c1c1c1 0px,#c3c3c3 32px,#c5c5c5 64px,#c7c7c7 96px,#c9c9c9 128px,#cbcbcb 160px,#cccccc 192px,#cdcdcd 224px,#cfcfcf 256px,#d0d0d0 288px,#d1d1d1 320px,#d2d2d2 352px,#d3d3d3 384px,#d4d4d4 416px,#d5d5d5 448px,#d5d5d5 480px,#d6d6d6 512px,#d5d5d5 544px,#d4d4d4 576px,#d4d4d4 608px,#d3d3d3 640px,#d2d2d2 672px,#d1d1d1 704px,#d0d0d0 736px,#cecece 768px,#cdcdcd 800px,#cccccc 832px,#cacaca 864px,#c9c9c9 896px,#c7c7c7 928px,#c5c5c5 960px,#c3c3c3 992px,#c1c1c1 1016px)"></div>
</div></div>
<svg width="1024" height="600" viewBox="0 0 1024 600">
<line x1="30.0" x2="994.0" y1="413.10" y2="413.10" stroke="#000" stroke-opacity="0.539" stroke-width="1.5"/>
<line x1="30.0" x2="994.0" y1="361.20" y2="361.20" stroke="#000" stroke-opacity="0.347" stroke-width="1.5"/>
<line x1="30.0" x2="994.0" y1="309.30" y2="309.30" stroke="#000" stroke-opacity="0.279" stroke-width="1.5"/>
<line x1="30.0" x2="994.0" y1="257.40" y2="257.40" stroke="#000" stroke-opacity="0.225" stroke-width="1.5"/>
<line x1="30.0" x2="994.0" y1="205.50" y2="205.50" stroke="#000" stroke-opacity="0.173" stroke-width="1.5"/>
<line x1="30.0" x2="994.0" y1="153.60" y2="153.60" stroke="#000" stroke-opacity="0.131" stroke-width="1.5"/>
<line x1="30.0" x2="994.0" y1="101.70" y2="101.70" stroke="#000" stroke-opacity="0.084" stroke-width="1.5"/>
<rect x="57.36" y="146.53" width="83.00" height="318.67" fill="#4f81bd" fill-opacity="0.85" stroke="#fff" stroke-opacity="0.62" stroke-width="2.4"/>
<rect x="195.07" y="341.16" width="83.00" height="124.04" fill="#4f81bd" fill-opacity="0.85" stroke="#fff" stroke-opacity="0.62" stroke-width="2.4"/>
<rect x="332.79" y="435.10" width="83.00" height="30.10" fill="#4f81bd" fill-opacity="0.85" stroke="#fff" stroke-opacity="0.62" stroke-width="2.4"/>
<rect x="470.50" y="453.26" width="83.00" height="11.94" fill="#4f81bd" fill-opacity="0.85" stroke="#fff" stroke-opacity="0.62" stroke-width="2.4"/>
<rect x="608.21" y="454.82" width="83.00" height="10.38" fill="#4f81bd" fill-opacity="0.85" stroke="#fff" stroke-opacity="0.62" stroke-width="2.4"/>
<rect x="745.93" y="462.09" width="83.00" height="3.11" fill="#4f81bd" fill-opacity="0.85" stroke="#fff" stroke-opacity="0.62" stroke-width="2.4"/>
<rect x="883.64" y="463.64" width="83.00" height="1.56" fill="#4f81bd" fill-opacity="0.85" stroke="#fff" stroke-opacity="0.62" stroke-width="2.4"/>
<line x1="30.0" x2="994.0" y1="464.9" y2="464.9" stroke="#404040" stroke-width="3.4"/>
<text x="98.86" y="176.9" class="dl" textLength="38.34" lengthAdjust="spacingAndGlyphs">61.4</text>
<text x="236.57" y="371.6" class="dl" textLength="38.34" lengthAdjust="spacingAndGlyphs">23.9</text>
<text x="374.29" y="448.7" class="dl" textLength="27.50" lengthAdjust="spacingAndGlyphs">5.8</text>
<text x="512.00" y="448.7" class="dl" textLength="27.50" lengthAdjust="spacingAndGlyphs">2.3</text>
<text x="649.71" y="448.7" class="dl" textLength="10.84" lengthAdjust="spacingAndGlyphs">2</text>
<text x="787.43" y="448.7" class="dl" textLength="27.50" lengthAdjust="spacingAndGlyphs">0.6</text>
<text x="925.14" y="448.7" class="dl" textLength="27.50" lengthAdjust="spacingAndGlyphs">0.3</text>
<text x="98.86" y="498.3" class="cl" textLength="106.30" lengthAdjust="spacingAndGlyphs">DISORDERLY</text>
<text x="98.86" y="524.4" class="cl" textLength="87.25" lengthAdjust="spacingAndGlyphs">CONDUCT</text>
<text x="236.57" y="498.3" class="cl" textLength="74.97" lengthAdjust="spacingAndGlyphs">ASSAULT</text>
<text x="374.29" y="498.3" class="cl" textLength="54.06" lengthAdjust="spacingAndGlyphs">THEFT</text>
<text x="512.00" y="498.3" class="cl" textLength="104.22" lengthAdjust="spacingAndGlyphs">VANDALISM</text>
<text x="649.71" y="498.3" class="cl" textLength="136.39" lengthAdjust="spacingAndGlyphs">VIOLENT CRIME</text>
<text x="787.43" y="498.3" class="cl" textLength="66.84" lengthAdjust="spacingAndGlyphs">MOTOR</text>
<text x="787.43" y="524.4" class="cl" textLength="130.59" lengthAdjust="spacingAndGlyphs">VEHICLE THEFT</text>
<text x="925.14" y="498.3" class="cl" textLength="92.62" lengthAdjust="spacingAndGlyphs">BURGLARY</text>
<text x="512" y="60.6" class="ti" textLength="270.31" lengthAdjust="spacingAndGlyphs">2023 All Crimes</text>
<text x="511.4" y="559.3" class="at" textLength="221.52" lengthAdjust="spacingAndGlyphs">Incidents Per 100 Beds</text>
</svg>
</body></html>
